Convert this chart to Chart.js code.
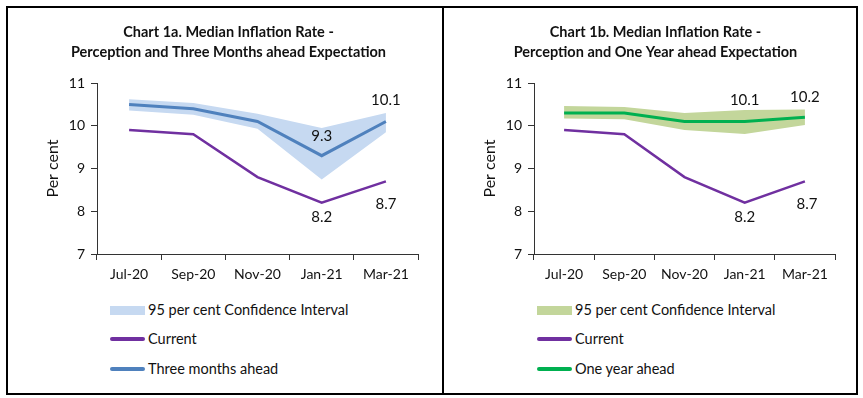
<!DOCTYPE html>
<html>
<head>
<meta charset="utf-8">
<script src="https://cdn.jsdelivr.net/npm/chart.js@4"></script>
<style>
  body { margin: 0; background: #fff; font-family: Lato, sans-serif; }
  #wrap { position: relative; width: 863px; height: 398px; }
  .box { position: absolute; border: 2px solid #000; box-sizing: border-box; }
  canvas { position: absolute; }
  .leg { position: absolute; font-size: 14.5px; color: #111; line-height: 16px; }
  .row { position: absolute; white-space: nowrap; }
  .sw { position: absolute; }
  .txt { position: absolute; top: -8px; }
</style>
</head>
<body>
<div id="wrap">
  <div class="box" style="left:6px; top:6px; width:852px; height:389px;"></div>
  <div class="box" style="left:442px; top:6px; width:2px; height:389px; border-width:0 0 0 2px;"></div>
  <canvas id="chartA" width="434" height="282" style="left:8px; top:8px;"></canvas>
  <canvas id="chartB" width="410" height="282" style="left:445px; top:8px;"></canvas>
  <div id="legendA" class="leg" style="left:110px; top:0;"></div>
  <div id="legendB" class="leg" style="left:537px; top:0;"></div>
</div>
<script>
const months = ["Jul-20", "Sep-20", "Nov-20", "Jan-21", "Mar-21"];
const yTicks = [7, 8, 9, 10, 11];

const current = [9.9, 9.8, 8.8, 8.2, 8.7];

const threeMonths = [10.5, 10.4, 10.1, 9.3, 10.1];
const threeLow = [10.36, 10.26, 9.93, 8.74, 9.85];
const threeHigh = [10.62, 10.53, 10.28, 9.95, 10.3];

const oneYear = [10.3, 10.3, 10.1, 10.1, 10.2];
const yearLow = [10.17, 10.15, 9.9, 9.81, 10.02];
const yearHigh = [10.46, 10.44, 10.3, 10.37, 10.38];

const PURPLE = "#7030A0";
const BLUE = "#4F81BD";
const BLUE_BAND = "#C6D9F1";
const GREEN = "#00B050";
const GREEN_BAND = "#C3D69B";

// draws the value labels next to chosen points
const pointLabels = {
  id: "pointLabels",
  afterDatasetsDraw(chart, args, opts) {
    const ctx = chart.ctx;
    ctx.save();
    ctx.font = "15px Lato";
    ctx.fillStyle = "#111";
    ctx.textAlign = "center";
    ctx.textBaseline = "middle";
    opts.items.forEach(it => {
      const pt = chart.getDatasetMeta(it.ds).data[it.i];
      const v = chart.data.datasets[it.ds].data[it.i];
      ctx.fillText(v.toFixed(1), pt.x + (it.dx || 0), pt.y + it.dy);
    });
    ctx.restore();
  }
};

function makeChart(id, title, band, bandLow, bandHigh, ahead, aheadColor, labelItems, padRight) {
  return new Chart(document.getElementById(id), {
    type: "line",
    data: {
      labels: months,
      datasets: [
        { data: bandLow, borderWidth: 0, pointRadius: 0, fill: false, order: 3 },
        { data: bandHigh, borderWidth: 0, pointRadius: 0, fill: "-1", backgroundColor: band, order: 2 },
        { data: current, borderColor: PURPLE, borderWidth: 2.5, pointRadius: 0, fill: false, order: 1 },
        { data: ahead, borderColor: aheadColor, borderWidth: 3, pointRadius: 0, fill: false, order: 0 }
      ]
    },
    options: {
      responsive: false,
      animation: false,
      layout: { padding: { left: 31, right: padRight, top: 0, bottom: 0 } },
      plugins: {
        legend: { display: false },
        tooltip: { enabled: false },
        title: {
          display: true,
          text: title,
          color: "#111",
          font: { family: "Lato", size: 14.5, weight: "bold", lineHeight: 1.38 },
          padding: { top: 14, bottom: 21 }
        },
        pointLabels: { items: labelItems }
      },
      scales: {
        x: {
          offset: true,
          grid: { offset: true, drawOnChartArea: false, tickLength: 6, color: "#333" },
          border: { color: "#333", width: 1 },
          ticks: { color: "#111", font: { family: "Lato", size: 14 }, padding: 6, maxRotation: 0 },
          afterFit(s) { s.height = 36; }
        },
        y: {
          min: 7, max: 11,
          afterBuildTicks(s) { s.ticks = yTicks.map(v => ({ value: v })); },
          grid: { drawOnChartArea: false, tickLength: 6, color: "#333" },
          border: { color: "#333", width: 1 },
          ticks: { color: "#111", font: { family: "Lato", size: 14 }, padding: 6 },
          title: { display: true, text: "Per cent", color: "#111", font: { family: "Lato", size: 16 }, padding: 4 },
          afterFit(s) { s.width = 58; }
        }
      }
    },
    plugins: [pointLabels]
  });
}

makeChart("chartA",
  ["Chart 1a. Median Inflation Rate -", "Perception and Three Months ahead Expectation"],
  BLUE_BAND, threeLow, threeHigh, threeMonths, BLUE,
  [{ ds: 3, i: 4, dy: -21 }, { ds: 3, i: 3, dy: -20 }, { ds: 2, i: 3, dy: 14 }, { ds: 2, i: 4, dy: 23 }],
  24);

makeChart("chartB",
  ["Chart 1b. Median Inflation Rate -", "Perception and One Year ahead Expectation"],
  GREEN_BAND, yearLow, yearHigh, oneYear, GREEN,
  [{ ds: 3, i: 3, dy: -21 }, { ds: 3, i: 4, dy: -20 }, { ds: 2, i: 3, dy: 14 }, { ds: 2, i: 4, dy: 23, dx: 2 }],
  20);

function buildLegend(id, bandColor, aheadLabel, aheadColor) {
  const rows = [
    { label: "95 per cent Confidence Interval", color: bandColor, h: 9, y: 310 },
    { label: "Current", color: PURPLE, h: 4, y: 339 },
    { label: aheadLabel, color: aheadColor, h: 4, y: 369 }
  ];
  const el = document.getElementById(id);
  rows.forEach(r => {
    const row = document.createElement("div");
    row.className = "row";
    row.style.top = r.y + "px";
    row.innerHTML = `<div class="sw" style="left:0; top:${-r.h / 2}px; width:35px; height:${r.h}px; background:${r.color}; border-radius:${r.h > 5 ? 0 : 2}px;"></div>` +
      `<span class="txt" style="left:38px;">${r.label}</span>`;
    el.appendChild(row);
  });
}

buildLegend("legendA", BLUE_BAND, "Three months ahead", BLUE);
buildLegend("legendB", GREEN_BAND, "One year ahead", GREEN);
</script>
</body>
</html>
